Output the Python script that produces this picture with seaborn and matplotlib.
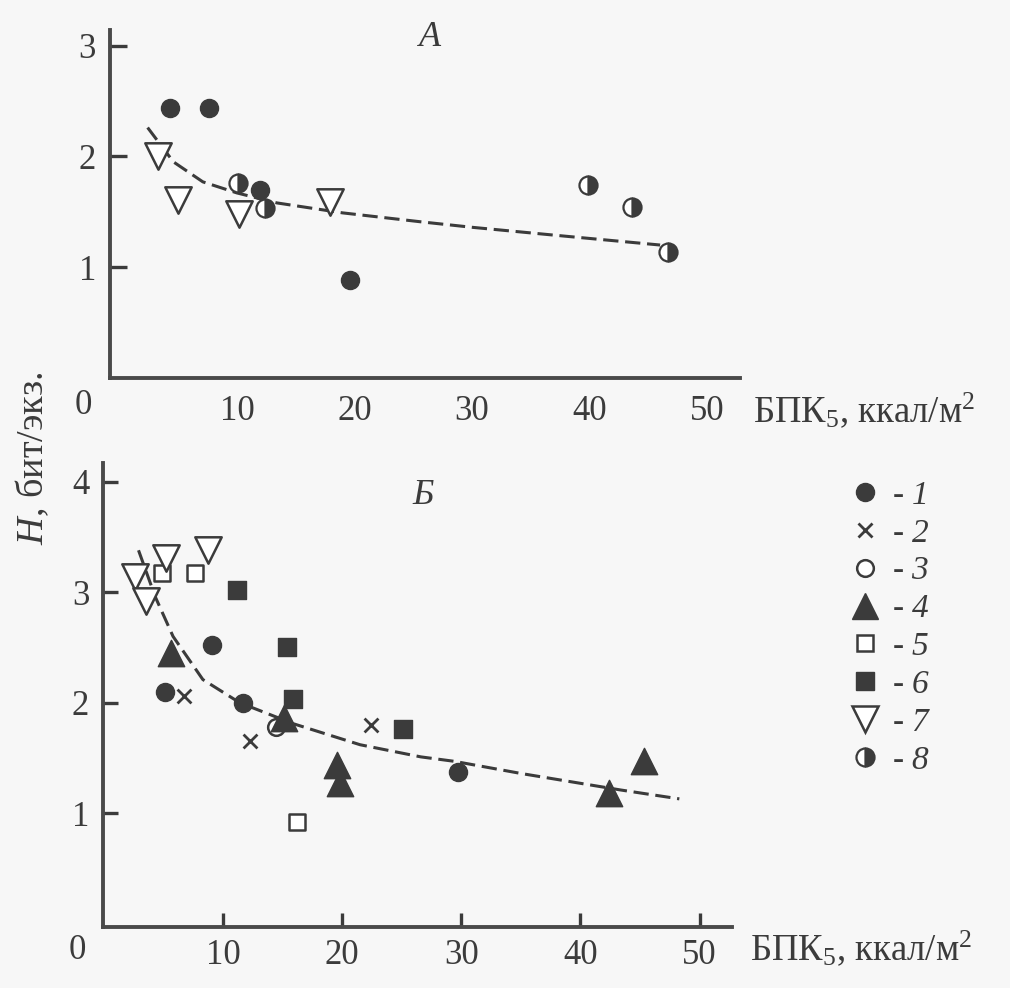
import matplotlib
matplotlib.use("Agg")
import matplotlib.pyplot as plt
from matplotlib.lines import Line2D
import seaborn as sns

# ---- panel A (top) ----
a_dot_x = [4.3, 7.6, 12.0, 19.6]
a_dot_y = [2.44, 2.44, 1.70, 0.88]
a_tri_x = [3.3, 5.0, 10.2, 17.9]
a_tri_y = [2.00, 1.61, 1.48, 1.59]
a_half_x = [10.1, 12.4, 39.9, 43.6, 46.7]
a_half_y = [1.76, 1.53, 1.74, 1.54, 1.14]
a_trend_x = [2.4, 4.6, 7.1, 10.0, 13.4, 19.0, 25.6, 30.0, 36.9, 46.0]
a_trend_y = [2.26, 1.95, 1.77, 1.67, 1.58, 1.49, 1.41, 1.36, 1.29, 1.20]

# ---- panel B (bottom) ----
b_dot_x = [5.1, 9.05, 11.7, 29.7]
b_dot_y = [2.10, 2.52, 2.00, 1.37]
b_cross_x = [6.7, 12.3, 22.4]
b_cross_y = [2.06, 1.65, 1.80]
b_ring_x = [14.4]
b_ring_y = [1.78]
b_tri_x = [5.6, 15.1, 19.6, 19.8, 42.4, 45.3]
b_tri_y = [2.45, 1.86, 1.44, 1.27, 1.18, 1.47]
b_osq_x = [4.85, 7.65, 16.2]
b_osq_y = [3.17, 3.17, 0.92]
b_fsq_x = [11.15, 15.35, 15.9, 25.1]
b_fsq_y = [3.02, 2.50, 2.03, 1.76]
b_vtri_x = [2.6, 3.5, 5.2, 8.75]
b_vtri_y = [3.14, 2.92, 3.31, 3.38]
b_trend_x = [2.9, 4.3, 5.8, 8.3, 11.4, 15.9, 21.5, 26.6, 29.4, 35.0, 43.4, 48.3]
b_trend_y = [3.38, 2.96, 2.60, 2.21, 2.00, 1.81, 1.62, 1.51, 1.47, 1.36, 1.21, 1.13]

x_ticks = [10, 20, 30, 40, 50]
legend_labels = ["1", "2", "3", "4", "5", "6", "7", "8"]
x_label = "БПК$_5$, ккал/м$^2$"
y_label = "$H$, бит/экз."

ink = "#3b3b3b"
paper = "#f7f7f7"

sns.set_style("ticks")
plt.rcParams["font.family"] = ["Liberation Serif", "DejaVu Serif"]
plt.rcParams["mathtext.fontset"] = "custom"
plt.rcParams["mathtext.rm"] = "Liberation Serif"
plt.rcParams["mathtext.it"] = "Liberation Serif:italic"
# italic digits for the legend numbers (mathtext keeps digits upright in 'it')
plt.rcParams["mathtext.sf"] = "Liberation Serif:italic"
plt.rcParams["text.color"] = ink
plt.rcParams["xtick.color"] = ink
plt.rcParams["ytick.color"] = ink

# marker styles
styles = {
    "1": dict(marker="o", ms=13, mfc=ink, mec=ink, mew=1.0),
    "2": dict(marker="x", ms=10, mfc=ink, mec=ink, mew=2.0),
    "3": dict(marker="o", ms=12, mfc="white", mec=ink, mew=1.8),
    "4": dict(marker="^", ms=19, mfc=ink, mec=ink, mew=1.0),
    "5": dict(marker="s", ms=12, mfc="white", mec=ink, mew=1.8),
    "6": dict(marker="s", ms=13, mfc=ink, mec=ink, mew=1.0),
    "7": dict(marker="v", ms=19, mfc="white", mec=ink, mew=1.8),
    "8": dict(marker="o", ms=13, mfc=ink, mec=ink, mew=1.6,
              fillstyle="right", markerfacecoloralt="white"),
}


def scatter(ax, xs, ys, key):
    st = styles[key]
    if key == "8":
        ax.plot(xs, ys, ls="none", zorder=4, **st)
        return
    sns.scatterplot(x=xs, y=ys, ax=ax, marker=st["marker"], s=st["ms"] ** 2,
                    facecolor=st["mfc"], edgecolor=st["mec"],
                    linewidth=st["mew"], color=ink, zorder=4)


def trend(ax, xs, ys):
    sns.lineplot(x=xs, y=ys, ax=ax, sort=False, color=ink, lw=2.2,
                 dashes=(5, 2.2), zorder=3)


def style_axes(ax):
    for side in ["top", "right"]:
        ax.spines[side].set_visible(False)
    for side in ["left", "bottom"]:
        ax.spines[side].set_linewidth(2.8)
        ax.spines[side].set_color("#4a4a4a")
    ax.set_facecolor("none")
    ax.set_xlabel("")
    ax.set_ylabel("")


fig = plt.figure(figsize=(10.1, 9.88), dpi=100, facecolor=paper)

# top panel
ax1 = fig.add_axes([0.1089, 0.6174, 0.6238, 0.3522])
trend(ax1, a_trend_x, a_trend_y)
scatter(ax1, a_dot_x, a_dot_y, "1")
scatter(ax1, a_tri_x, a_tri_y, "7")
scatter(ax1, a_half_x, a_half_y, "8")
ax1.set_xlim(-0.8, 52.8)
ax1.set_ylim(0, 3.14)
ax1.set_xticks(x_ticks)
ax1.set_yticks([1, 2, 3])
ax1.tick_params(axis="x", length=0, pad=12, labelsize=25)
ax1.tick_params(axis="y", direction="in", length=12, width=2.4, pad=10, labelsize=25)
style_axes(ax1)
ax1.text(26.4, 3.07, "A", style="italic", fontsize=26, ha="center", va="center")
ax1.annotate("0", xy=(0, 0), xycoords="axes fraction", xytext=(-27, -27),
             textcoords="offset pixels", ha="center", va="center", fontsize=25)
ax1.annotate(x_label, xy=(1, 0), xycoords="axes fraction", xytext=(13, -44),
             textcoords="offset pixels", ha="left", va="baseline", fontsize=26.5)

# bottom panel
ax2 = fig.add_axes([0.102, 0.0617, 0.6225, 0.4697])
trend(ax2, b_trend_x, b_trend_y)
scatter(ax2, b_dot_x, b_dot_y, "1")
scatter(ax2, b_cross_x, b_cross_y, "2")
scatter(ax2, b_ring_x, b_ring_y, "3")
scatter(ax2, b_tri_x, b_tri_y, "4")
scatter(ax2, b_osq_x, b_osq_y, "5")
scatter(ax2, b_fsq_x, b_fsq_y, "6")
scatter(ax2, b_vtri_x, b_vtri_y, "7")
ax2.set_xlim(-0.08, 52.7)
ax2.set_ylim(-0.03, 4.17)
ax2.set_xticks(x_ticks)
ax2.set_yticks([1, 2, 3, 4])
ax2.tick_params(axis="x", direction="in", length=10, width=2.4, pad=8.5, labelsize=25)
ax2.tick_params(axis="y", direction="in", length=11, width=2.4, pad=10, labelsize=25)
style_axes(ax2)
ax2.text(26.8, 3.88, "Б", style="italic", fontsize=26, ha="center", va="center")
ax2.annotate("0", xy=(0, 0), xycoords="axes fraction", xytext=(-26, -23),
             textcoords="offset pixels", ha="center", va="center", fontsize=25)
ax2.annotate(x_label, xy=(1, 0), xycoords="axes fraction", xytext=(18, -33),
             textcoords="offset pixels", ha="left", va="baseline", fontsize=26.5)

fig.text(0.032, 0.5364, y_label, rotation=90, ha="center", va="center", fontsize=27.5)

# legend
handles = [Line2D([], [], ls="none", **styles[k]) for k in legend_labels]
labels = ["- $\\mathsf{%s}$" % k for k in legend_labels]
fig.legend(handles, labels, loc="upper left", bbox_to_anchor=(0.8366, 0.514),
           frameon=False, fontsize=24, handlelength=1.2, handletextpad=0.2,
           labelspacing=0.22, borderpad=0, borderaxespad=0)

fig.savefig("out.png", dpi=100, facecolor=paper)
